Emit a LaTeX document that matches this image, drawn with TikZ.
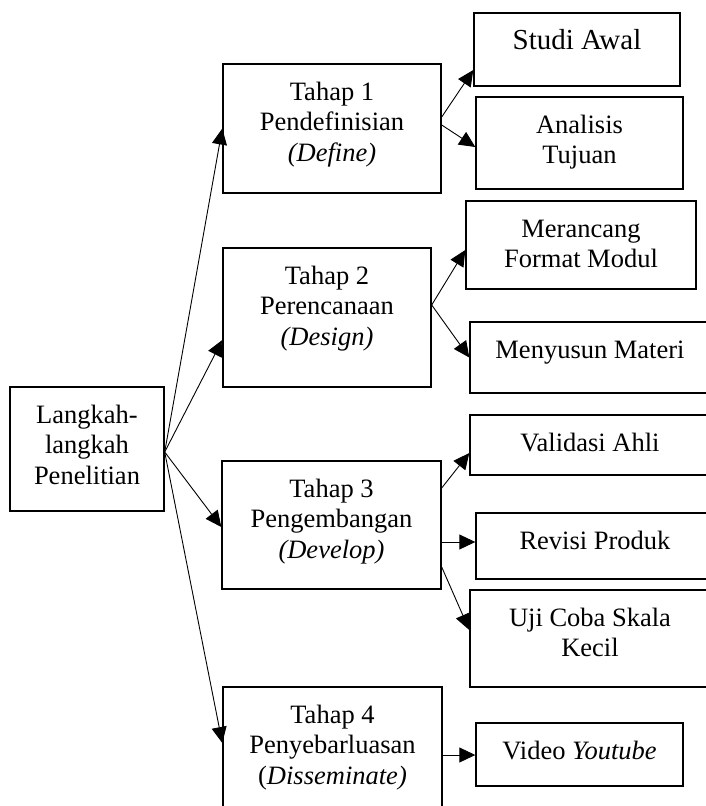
\documentclass[tikz,border=0pt]{standalone}
\usepackage{fontspec}
\setmainfont{Liberation Serif}
\usetikzlibrary{arrows.meta}
\newcommand{\bxtxt}[3]{\parbox[c][#2][t]{#1}{\centering\vspace*{14.65pt}\strut #3\par}}
\tikzset{
  box/.style={draw, line width=1.4pt, inner sep=0pt, font=\fontsize{26.5}{30.5}\selectfont},
  bigbox/.style={box, font=\fontsize{29}{33}\selectfont},
  conn/.style={line width=0.9pt, -{Triangle[length=16pt,width=15pt]}}
}
\begin{document}
\begin{tikzpicture}[x=1pt,y=-1pt]
\path[use as bounding box, clip] (0,0) rectangle (706,806);
% main
\node[box] (L) at (87,449) {\bxtxt{154pt}{124pt}{Langkah-\\langkah\\Penelitian}};
% stages
\node[box] (T1) at (332,128.5) {\bxtxt{218pt}{129pt}{Tahap 1\\Pendefinisian\\\textit{(Define)}}};
\node[box] (T2) at (327,317.5) {\bxtxt{208pt}{139pt}{Tahap 2\\Perencanaan\\\textit{(Design)}}};
\node[box] (T3) at (331.5,525) {\bxtxt{219pt}{128pt}{Tahap 3\\Pengembangan\\\textit{(Develop)}}};
\node[box] (T4) at (332.5,758.5) {\bxtxt{219pt}{143pt}{Tahap 4\\Penyebarluasan\\(\textit{Disseminate)}}};
% sub steps
\node[bigbox] (SA) at (577,49.5) {\parbox[c][73pt][t]{206pt}{\centering\vspace*{13pt}\strut Studi Awal\par}};
\node[box] (AT) at (579.5,143) {\bxtxt{207pt}{92pt}{Analisis\\Tujuan}};
\node[box] (MF) at (581,245) {\bxtxt{230pt}{88pt}{Merancang\\Format Modul}};
\node[box] (MM) at (590,357.5) {\bxtxt{240pt}{71pt}{Menyusun Materi}};
\node[box] (VA) at (590,445) {\bxtxt{240pt}{60pt}{Validasi Ahli}};
\node[box] (RP) at (595,546) {\bxtxt{238pt}{66pt}{Revisi Produk}};
\node[box] (UC) at (590,638.5) {\bxtxt{240pt}{97pt}{Uji Coba Skala\\Kecil}};
\node[box] (VY) at (579.5,754.5) {\bxtxt{207pt}{63pt}{Video \textit{Youtube}}};
% connectors from main
\draw[conn] ([yshift=-3pt]L.east) -- (T1.west);
\draw[conn] ([yshift=-3pt]L.east) -- ([yshift=-22.5pt]T2.west);
\draw[conn] ([yshift=-3pt]L.east) -- ([yshift=-2pt]T3.west);
\draw[conn] ([yshift=-3pt]L.east) -- ([yshift=15.5pt]T4.west);
% stage 1
\draw[conn] ([yshift=11.5pt]T1.east) -- ([yshift=-20.5pt]SA.west);
\draw[conn] ([yshift=3.5pt]T1.east) -- ([yshift=-4pt]AT.west);
% stage 2
\draw[conn] ([yshift=12.5pt]T2.east) -- ([yshift=-5pt]MF.west);
\draw[conn] ([yshift=12.5pt]T2.east) -- (MM.west);
% stage 3
\draw[conn] ([yshift=37pt]T3.east) -- ([yshift=-8pt]VA.west);
\draw[conn] ([yshift=-17pt]T3.east) -- ([yshift=4pt]RP.west);
\draw[conn] ([yshift=-42pt]T3.east) -- ([yshift=8.5pt]UC.west);
% stage 4
\draw[conn] ([yshift=3.5pt]T4.east) -- ([yshift=-0.5pt]VY.west);
\end{tikzpicture}
\end{document}
